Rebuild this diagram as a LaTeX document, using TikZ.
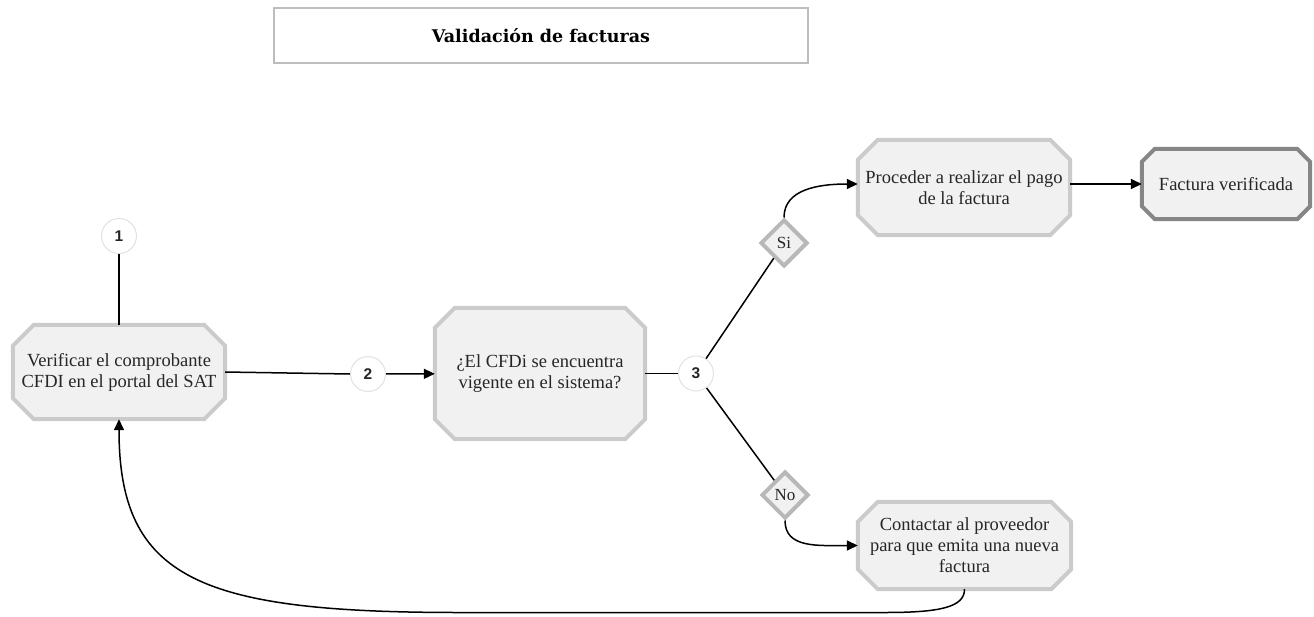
\documentclass[tikz,border=0pt]{standalone}
\usepackage{fontspec}
\setmainfont{Liberation Serif}
\newfontfamily\titlefont{DejaVu Serif}
\newfontfamily\numfont{Liberation Sans}
\usetikzlibrary{shapes.geometric,arrows.meta,backgrounds}
\definecolor{boxfill}{HTML}{F1F1F1}
\definecolor{boxline}{HTML}{CBCBCB}
\definecolor{endline}{HTML}{868686}
\definecolor{dialine}{HTML}{B8B8B8}
\definecolor{circline}{HTML}{E2E2E2}
\definecolor{titleline}{HTML}{BDBDBD}
\newcommand\octoshape[3]{%
  \path[#3] ([xshift=#2]#1.north west) -- ([xshift=-#2]#1.north east)
    -- ([yshift=-#2]#1.north east) -- ([yshift=#2]#1.south east)
    -- ([xshift=-#2]#1.south east) -- ([xshift=#2]#1.south west)
    -- ([yshift=#2]#1.south west) -- ([yshift=-#2]#1.north west) -- cycle;}
\tikzset{
  txt/.style={font=\fontsize{18.5}{21}\selectfont, align=center, text=black!85, inner sep=0pt},
  octo/.style={txt, rectangle, minimum width=#1},
  octostyle/.style={fill=boxfill, draw=boxline, line width=4pt, line join=miter},
  endstyle/.style={fill=boxfill, draw=endline, line width=4pt, line join=miter},
  numc/.style={circle, draw=circline, line width=1pt, fill=white, minimum size=35pt, inner sep=0pt,
    font=\numfont\bfseries\fontsize{15.5}{15.5}\selectfont, text=black!85},
  dia/.style={diamond, draw=dialine, fill=boxfill, line width=4pt, minimum width=47pt, minimum height=47pt,
    inner sep=0pt, font=\fontsize{17}{17}\selectfont, text=black!85},
  conn/.style={line width=1.5pt, black},
  arr/.style={conn, -{Triangle[length=11pt,width=10pt]}},
}
\begin{document}
\begin{tikzpicture}[x=1pt,y=-1pt]
\useasboundingbox (0,0) rectangle (1314,616);
% title
\node[draw=titleline, line width=1.2pt, minimum width=534pt, minimum height=55pt, inner sep=0pt,
  font=\titlefont\bfseries\fontsize{17.5}{19}\selectfont] (title) at (541,35.5) {Validación de facturas};
% main nodes
\node[octo=212pt, minimum height=94pt] (A) at (119,372) {Verificar el comprobante\\CFDI en el portal del SAT};
\node[octo=210pt, minimum height=131pt] (B) at (540,373.5) {¿El CFDi se encuentra\\vigente en el sistema?};
\node[octo=212pt, minimum height=95pt] (C) at (964,187.5) {Proceder a realizar el pago\\de la factura};
\node[octo=168pt, minimum height=70pt] (D) at (1226,184) {Factura verificada};
\node[octo=213pt, minimum height=87pt] (E) at (964.5,545.5) {Contactar al proveedor\\para que emita una nueva\\factura};
\begin{pgfonlayer}{background}
\octoshape{A}{21pt}{octostyle}
\octoshape{B}{20pt}{octostyle}
\octoshape{C}{20pt}{octostyle}
\octoshape{D}{13pt}{endstyle}
\octoshape{E}{20pt}{octostyle}
\end{pgfonlayer}
% numbered circles
\node[numc] (c1) at (119,236) {1};
\node[numc] (c2) at (368,374) {2};
\node[numc] (c3) at (696,373.5) {3};
% decisions
\node[dia] (si) at (784,243) {Si};
\node[dia] (no) at (785,495) {No};
% connectors
\draw[conn] (c1) -- (A);
\draw[conn] (A.east) -- (c2.west);
\draw[arr] (c2) -- (B);
\draw[conn] (B.east) -- (c3.west);
\draw[conn] (c3) -- (si);
\draw[conn] (c3) -- (no);
\draw[arr] (si.north) .. controls +(0,-28) and +(-40,0) .. ([yshift=3.5pt]C.west);
\draw[arr] ([yshift=3.5pt]C.east) -- (D.west);
\draw[arr] (no.south) .. controls +(0,28) and +(-40,0) .. (E.west);
\coordinate (loopR) at (885,612.5);
\coordinate (loopL) at (460,612.5);
\draw[arr] (E.south) .. controls +(0,18) and +(55,0) .. (loopR) -- (loopL)
  .. controls +(-260,0) and +(0,160) .. (A.south);
\end{tikzpicture}
\end{document}
